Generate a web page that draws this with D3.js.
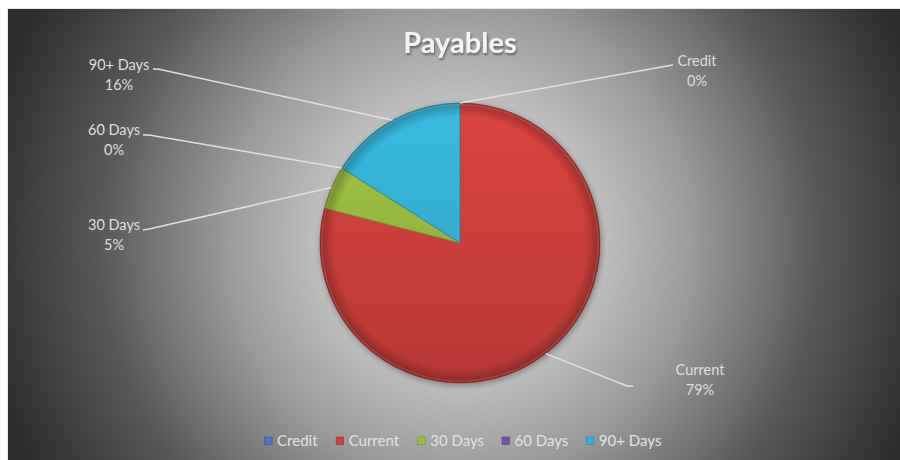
<!DOCTYPE html>
<html>
<head>
<meta charset="utf-8">
<script src="https://cdn.jsdelivr.net/npm/d3@7"></script>
<style>
  html, body { margin: 0; padding: 0; background: #ffffff; }
  svg { display: block; }
</style>
</head>
<body>
<div id="chart"></div>
<script>
// data
var categories = ["Credit", "Current", "30 Days", "60 Days", "90+ Days"];
var values = [0, 79, 5, 0, 16];
var pctLabels = ["0%", "79%", "5%", "0%", "16%"];

var width = 900, height = 460;
var cx = 460, cy = 243, radius = 140;

var color = d3.scaleOrdinal()
    .domain(categories)
    .range(["#4a74c4", "#d0403d", "#9abb41", "#7654a6", "#35b2d6"]);

// label placement (text centre, leader end, elbow)
var labelPos = {
  "Credit":   {tx: 697, ty: 61,  ex: 673, ey: 65,  bx: 667, by: 66},
  "Current":  {tx: 700, ty: 370, ex: 633, ey: 386, bx: 627, by: 386},
  "30 Days":  {tx: 114, ty: 225, ex: 143, ey: 230, bx: 149, by: 229},
  "60 Days":  {tx: 114, ty: 130, ex: 143, ey: 135, bx: 149, by: 135},
  "90+ Days": {tx: 119, ty: 65,  ex: 153, ey: 69,  bx: 158, by: 69}
};

var svg = d3.select("#chart").append("svg")
    .attr("width", width)
    .attr("height", height);

var defs = svg.append("defs");

// background
var bg = defs.append("radialGradient")
    .attr("id", "bg")
    .attr("gradientUnits", "userSpaceOnUse")
    .attr("cx", 460).attr("cy", 240).attr("r", 480);
[[0, "#d8d8d8"], [0.3, "#bebebe"], [0.5, "#979797"], [0.75, "#585858"], [1, "#2e2e2e"]]
  .forEach(function(s) { bg.append("stop").attr("offset", s[0]).attr("stop-color", s[1]); });

svg.append("rect")
    .attr("x", 7).attr("y", 8)
    .attr("width", width - 7).attr("height", height - 8)
    .attr("fill", "#e6e6e6");
svg.append("rect")
    .attr("x", 8).attr("y", 9)
    .attr("width", width - 8).attr("height", height - 9)
    .attr("fill", "url(#bg)");

// slice gradients
categories.forEach(function(c, i) {
  var base = d3.color(color(c));
  var g = defs.append("linearGradient")
      .attr("id", "sl" + i)
      .attr("gradientUnits", "userSpaceOnUse")
      .attr("x1", 0).attr("y1", -radius).attr("x2", 0).attr("y2", radius);
  g.append("stop").attr("offset", 0).attr("stop-color", base.brighter(0.15));
  g.append("stop").attr("offset", 1).attr("stop-color", base.darker(0.35));
});

var rim = defs.append("radialGradient")
    .attr("id", "rim")
    .attr("gradientUnits", "userSpaceOnUse")
    .attr("cx", 0).attr("cy", 0).attr("r", radius);
rim.append("stop").attr("offset", 0.9).attr("stop-color", "#000").attr("stop-opacity", 0);
rim.append("stop").attr("offset", 1).attr("stop-color", "#000").attr("stop-opacity", 0.28);

var shadow = defs.append("filter").attr("id", "shadow")
    .attr("x", "-20%").attr("y", "-20%").attr("width", "140%").attr("height", "140%");
shadow.append("feDropShadow")
    .attr("dx", 1).attr("dy", 2).attr("stdDeviation", 3)
    .attr("flood-color", "#000").attr("flood-opacity", 0.35);

var tshadow = defs.append("filter").attr("id", "tshadow");
tshadow.append("feDropShadow")
    .attr("dx", 1).attr("dy", 2).attr("stdDeviation", 1.2)
    .attr("flood-color", "#333").attr("flood-opacity", 0.6);

// title
svg.append("text")
    .attr("x", cx).attr("y", 53)
    .attr("text-anchor", "middle")
    .attr("font-family", "Lato, sans-serif")
    .attr("font-weight", "bold")
    .attr("font-size", 29)
    .attr("fill", "#f4f4f4")
    .attr("filter", "url(#tshadow)")
    .text("Payables");

var data = categories.map(function(c, i) { return {name: c, value: values[i], pct: pctLabels[i], i: i}; });

var pie = d3.pie().sort(null).value(function(d) { return d.value; });
var arcs = pie(data);

var arc = d3.arc().innerRadius(0).outerRadius(radius);

var g = svg.append("g").attr("transform", "translate(" + cx + "," + cy + ")");

// leader lines
var leaders = svg.append("g");
arcs.forEach(function(a) {
  var p = labelPos[a.data.name];
  var mid = (a.startAngle + a.endAngle) / 2;
  var sx = cx + radius * Math.sin(mid);
  var sy = cy - radius * Math.cos(mid);
  leaders.append("polyline")
      .attr("points", [[sx, sy], [p.bx, p.by], [p.ex, p.ey]].join(" "))
      .attr("fill", "none")
      .attr("stroke", "#e0e0e0")
      .attr("stroke-width", 1.5);
});

var pieG = g.append("g").attr("filter", "url(#shadow)");
pieG.selectAll("path.slice")
    .data(arcs.filter(function(a) { return a.value > 0; }))
    .enter().append("path")
    .attr("class", "slice")
    .attr("d", arc)
    .attr("fill", function(d) { return "url(#sl" + d.data.i + ")"; })
    .attr("stroke", function(d) { return d3.color(color(d.data.name)).darker(0.8); })
    .attr("stroke-width", 0.8)
    .attr("stroke-linejoin", "round");

g.append("circle")
    .attr("r", radius)
    .attr("fill", "url(#rim)")
    .attr("pointer-events", "none");

// light highlight on inner edges
g.selectAll("path.hl")
    .data(arcs.filter(function(a) { return a.value > 0; }))
    .enter().append("path")
    .attr("class", "hl")
    .attr("d", d3.arc().innerRadius(radius - 2.5).outerRadius(radius - 1))
    .attr("fill", "#fff")
    .attr("fill-opacity", 0.12);

// data labels
var labels = svg.append("g")
    .attr("font-family", "Lato, sans-serif")
    .attr("font-size", 14.5)
    .attr("fill", "#dedede")
    .attr("text-anchor", "middle");
data.forEach(function(d) {
  var p = labelPos[d.name];
  labels.append("text").attr("x", p.tx).attr("y", p.ty + 5).text(d.name);
  labels.append("text").attr("x", p.tx).attr("y", p.ty + 25).text(d.pct);
});

// legend
var legend = svg.append("g")
    .attr("font-family", "Lato, sans-serif")
    .attr("font-size", 15)
    .attr("fill", "#e2e2e2");
var items = legend.selectAll("g.item").data(categories).enter().append("g").attr("class", "item");
items.append("rect")
    .attr("x", 0).attr("y", -4)
    .attr("width", 7.5).attr("height", 7.5)
    .attr("fill", function(d) { return color(d); })
    .attr("stroke", function(d) { return d3.color(color(d)).darker(0.8); })
    .attr("stroke-width", 0.6);
items.append("text")
    .attr("x", 12.5).attr("y", 5)
    .text(function(d) { return d; });

var gap = 18, offs = [], total = 0;
items.each(function() {
  var w = this.getBBox().width;
  offs.push(total);
  total += w + gap;
});
total -= gap;
var lx0 = 463 - total / 2;
items.attr("transform", function(d, i) { return "translate(" + (lx0 + offs[i]) + ",441)"; });
</script>
</body>
</html>
